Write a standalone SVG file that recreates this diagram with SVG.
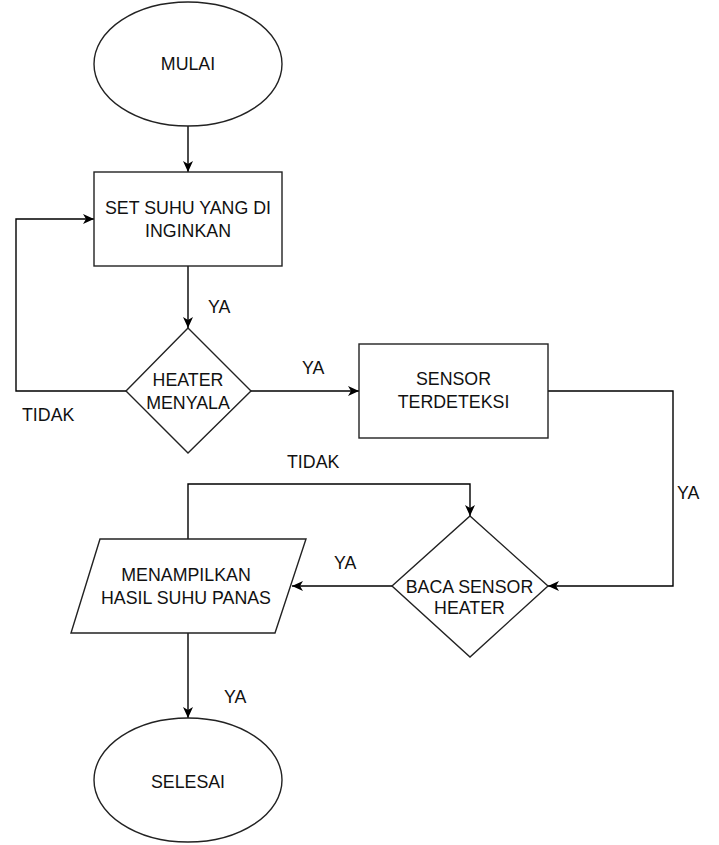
<svg xmlns="http://www.w3.org/2000/svg" width="719" height="845" viewBox="0 0 719 845">
<style>
.shape{fill:#fff;stroke:#222;stroke-width:1.4}
.edge{fill:none;stroke:#000;stroke-width:1.4}
text{font-family:"Liberation Sans",Arial,sans-serif;font-size:17.8px;fill:#111}
.c{text-anchor:middle}
</style>
<defs>
<marker id="arr" markerUnits="userSpaceOnUse" markerWidth="12" markerHeight="12" refX="11" refY="5" orient="auto">
<path d="M0,0 L11,5 L0,10 L3,5 z" fill="#000"/>
</marker>
</defs>
<rect width="719" height="845" fill="#fff"/>
<g id="connectors">
<path class="edge" d="M188,126 L188,172" marker-end="url(#arr)"/>
<path class="edge" d="M188,266 L188,328" marker-end="url(#arr)"/>
<path class="edge" d="M126,391 L16,391 L16,219 L94,219" marker-end="url(#arr)"/>
<path class="edge" d="M251,391 L359,391" marker-end="url(#arr)"/>
<path class="edge" d="M548,391 L673,391 L673,586 L548,586" marker-end="url(#arr)"/>
<path class="edge" d="M392,586 L292,586" marker-end="url(#arr)"/>
<path class="edge" d="M188,539 L188,484 L470,484 L470,516" marker-end="url(#arr)"/>
<path class="edge" d="M188,633 L188,718" marker-end="url(#arr)"/>
</g>
<g id="labels">
<text x="208" y="313">YA</text>
<text x="22" y="421">TIDAK</text>
<text x="302" y="374">YA</text>
<text x="287" y="468">TIDAK</text>
<text x="677" y="499">YA</text>
<text x="334" y="569">YA</text>
<text x="224" y="703">YA</text>
</g>
<g id="mulai">
<ellipse class="shape" cx="188" cy="64" rx="94" ry="62"/>
<text class="c" x="188" y="70">MULAI</text>
</g>
<g id="set-suhu">
<rect class="shape" x="94" y="172" width="188" height="94"/>
<text class="c" x="188" y="214">SET SUHU YANG DI</text>
<text class="c" x="188" y="237">INGINKAN</text>
</g>
<g id="heater-menyala">
<polygon class="shape" points="188,328 251,391 188,453 126,391"/>
<text class="c" x="188" y="386">HEATER</text>
<text class="c" x="188" y="409">MENYALA</text>
</g>
<g id="sensor-terdeteksi">
<rect class="shape" x="359" y="344" width="189" height="94"/>
<text class="c" x="453.5" y="385">SENSOR</text>
<text class="c" x="453.5" y="408">TERDETEKSI</text>
</g>
<g id="baca-sensor">
<polygon class="shape" points="470,516 548,586 470,657 392,586"/>
<text class="c" x="469.5" y="593">BACA SENSOR</text>
<text class="c" x="469.5" y="614">HEATER</text>
</g>
<g id="menampilkan">
<polygon class="shape" points="100,539 306,539 275,633 71,633"/>
<text class="c" x="186" y="581">MENAMPILKAN</text>
<text class="c" x="186" y="604">HASIL SUHU PANAS</text>
</g>
<g id="selesai">
<ellipse class="shape" cx="188" cy="780" rx="94" ry="62"/>
<text class="c" x="188" y="788">SELESAI</text>
</g>
</svg>
